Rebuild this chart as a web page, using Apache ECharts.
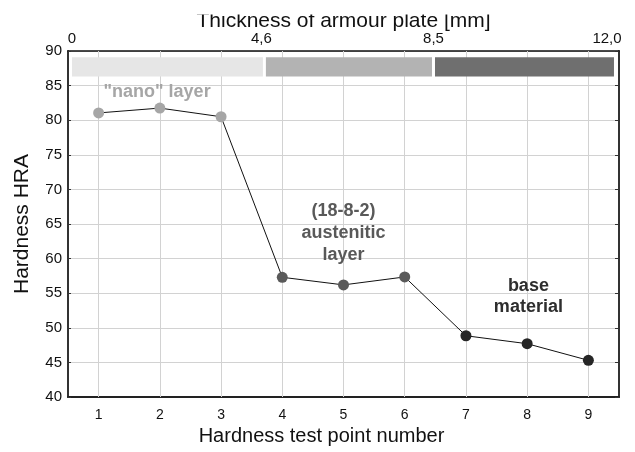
<!DOCTYPE html>
<html>
<head>
<meta charset="utf-8">
<script src="https://cdn.jsdelivr.net/npm/echarts@6/dist/echarts.min.js"></script>
<style>
  html, body { margin: 0; padding: 0; background: #fff; }
  #chart { width: 635px; height: 452px; }
</style>
</head>
<body>
<div id="chart"></div>
<script>
// ---- data ----
const pointNumbers = [1, 2, 3, 4, 5, 6, 7, 8, 9];
const hardnessHRA = [81.05, 81.75, 80.5, 57.3, 56.2, 57.35, 48.85, 47.7, 45.3];
const layerOfPoint = [0, 0, 0, 1, 1, 1, 2, 2, 2];
const layerNames = ['"nano" layer', '(18-8-2)\naustenitic\nlayer', 'base\nmaterial'];
// plate-layer boundaries, placed on the test-point scale of the chart
const thicknessTicks = [0.565, 3.708, 6.47, 9.418];
const thicknessLabels = ['0', '4,6', '8,5', '12,0'];

// ---- styles ----
const FONT = "'Liberation Sans', Arial, Helvetica, sans-serif";
const pointColors = ['#a6a6a6', '#5a5a5a', '#262626'];
const barColors = ['#e6e6e6', '#b3b3b3', '#6f6f6f'];
const textColors = ['#a6a6a6', '#595959', '#2e2e2e'];
const labelShiftPad = [0, 6, 0, 14];
const BAR_TOP = 89.1, BAR_BOTTOM = 86.3;
const GRID = '#d2d2d2';

const chart = echarts.init(document.getElementById('chart'), null, { renderer: 'canvas' });

const lineData = pointNumbers.map((n, i) => ({
  value: [n, hardnessHRA[i]],
  itemStyle: { color: pointColors[layerOfPoint[i]] }
}));
const barData = thicknessTicks.slice(0, -1).map((s, i) => [s, thicknessTicks[i + 1], i]);

function tickIndex(v) {
  return thicknessTicks.findIndex(t => Math.abs(t - v) < 1e-6);
}
const richTop = {};
labelShiftPad.forEach((p, i) => {
  richTop['l' + i] = { fontSize: 15, fontFamily: FONT, color: '#111', padding: [0, p, 0, 0] };
});

const option = {
  animation: false,
  textStyle: { fontFamily: FONT },
  grid: { left: 68, right: 16, top: 51, bottom: 55 },
  xAxis: [
    {
      type: 'value', position: 'bottom', min: 0.5, max: 9.5,
      name: 'Hardness test point number', nameLocation: 'middle', nameGap: 29, nameMoveOverlap: false,
      nameTextStyle: { fontSize: 20, color: '#111', fontFamily: FONT, padding: [0, 44, 0, 0] },
      axisLine: { show: true, lineStyle: { color: '#222', width: 2 } },
      axisTick: { show: true, inside: true, length: 4, customValues: pointNumbers, lineStyle: { color: '#222' } },
      axisLabel: { customValues: pointNumbers, margin: 11, fontSize: 14, color: '#111', fontFamily: FONT },
      splitLine: { show: false }
    },
    {
      type: 'value', position: 'top', min: 0.5, max: 9.5,
      name: 'Thickness of armour plate [mm]', nameLocation: 'middle', nameGap: 19, nameMoveOverlap: false,
      nameTextStyle: { fontSize: 21, color: '#111', fontFamily: FONT },
      axisLine: { show: true, lineStyle: { color: '#111', width: 1.5 } },
      axisTick: { show: false },
      axisLabel: {
        customValues: thicknessTicks, margin: 5, fontSize: 15, color: '#111', fontFamily: FONT,
        formatter: v => { const i = tickIndex(v); return '{l' + i + '|' + thicknessLabels[i] + '}'; },
        rich: richTop
      },
      splitLine: { show: false }
    }
  ],
  yAxis: [
    {
      type: 'value', position: 'left', min: 40, max: 90, interval: 5,
      name: 'Hardness HRA', nameLocation: 'middle', nameGap: 35, nameMoveOverlap: false,
      nameTextStyle: { fontSize: 21, color: '#111', fontFamily: FONT },
      axisLine: { show: true, lineStyle: { color: '#333', width: 2 } },
      axisTick: { show: true, inside: true, length: 3, lineStyle: { color: '#333' } },
      axisLabel: { margin: 6, fontSize: 15, color: '#111', fontFamily: FONT },
      splitLine: { show: true, lineStyle: { color: GRID, width: 1 } }
    },
    {
      type: 'value', position: 'right', min: 40, max: 90, interval: 5,
      axisLine: { show: true, lineStyle: { color: '#333', width: 2 } },
      axisTick: { show: true, inside: true, length: 4, lineStyle: { color: '#333' } },
      axisLabel: { show: false },
      splitLine: { show: false }
    }
  ],
  series: [
    {
      type: 'custom', name: 'layers', xAxisIndex: 1, yAxisIndex: 0, silent: true, z: 3,
      data: barData,
      renderItem: function (params, api) {
        const s = api.value(0), e = api.value(1), i = api.value(2);
        const p0 = api.coord([s, BAR_TOP]);
        const p1 = api.coord([e, BAR_BOTTOM]);
        const gL = i > 0 ? 1.5 : 0, gR = i < barData.length - 1 ? 1.5 : 0;
        return {
          type: 'rect',
          shape: { x: p0[0] + gL, y: p0[1], width: p1[0] - p0[0] - gL - gR, height: p1[1] - p0[1] },
          style: { fill: barColors[i] }
        };
      },
      markLine: {
        silent: true, symbol: 'none', z: 1, animation: false,
        label: { show: false },
        lineStyle: { color: GRID, width: 1, type: 'solid' },
        data: pointNumbers.map(n => ({ xAxis: n }))
      }
    },
    {
      type: 'line', name: 'hardness', xAxisIndex: 0, yAxisIndex: 0, z: 4,
      data: lineData,
      symbol: 'circle', symbolSize: 11,
      lineStyle: { color: '#111', width: 1 },
      emphasis: { disabled: true },
      silent: true
    },
    {
      type: 'scatter', name: 'annotations', xAxisIndex: 0, yAxisIndex: 0, symbolSize: 0, silent: true, z: 5,
      itemStyle: { opacity: 1 },
      emphasis: { disabled: true },
      data: [
        { value: [1.955, 84.08], label: { formatter: layerNames[0], color: textColors[0], lineHeight: 22 } },
        { value: [5.0, 63.7], label: { formatter: layerNames[1], color: textColors[1], lineHeight: 22 } },
        { value: [8.02, 54.52], label: { formatter: layerNames[2], color: textColors[2], lineHeight: 21 } }
      ],
      label: {
        show: true, position: 'inside', fontSize: 18, fontWeight: 'bold', fontFamily: FONT,
        align: 'center', verticalAlign: 'middle', textBorderWidth: 0, textBorderColor: 'transparent'
      }
    }
  ],
  graphic: [
    { type: 'rect', left: 150, top: 0, shape: { width: 400, height: 14.5 }, style: { fill: '#fff' }, z: 100, silent: true }
  ]
};

chart.setOption(option);
</script>
</body>
</html>
